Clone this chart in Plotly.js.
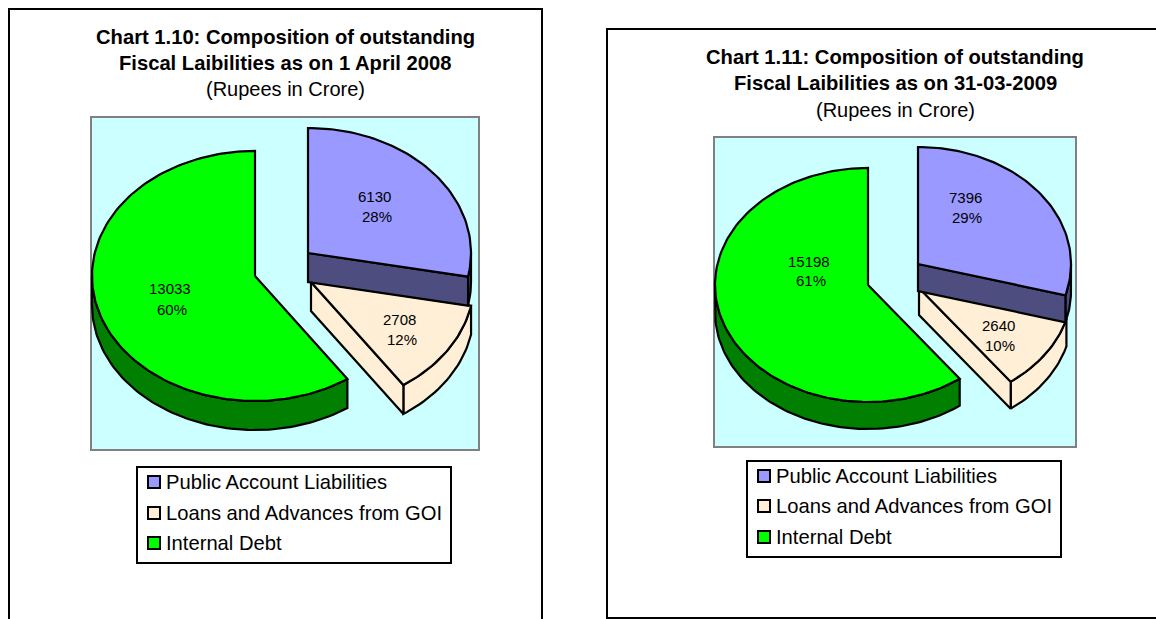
<!DOCTYPE html>
<html><head><meta charset="utf-8">
<script src="https://cdn.plot.ly/plotly-3.0.1.min.js"></script>
<style>html,body{margin:0;padding:0;background:#fff;overflow:hidden}#c{width:1156px;height:619px}</style>
</head><body><div id="c"></div>
<script>
const categories = ['Public Account Liabilities', 'Loans and Advances from GOI', 'Internal Debt'];
const valuesA = [6130, 2708, 13033];
const percentA = [28, 12, 60];
const valuesB = [7396, 2640, 15198];
const percentB = [29, 10, 61];
const topColors = ['#9999FF', '#FFEFD6', '#00FF00'];
const sideColors = ['#4D4D80', '#FFEFD6', '#007F00'];

const FONT = 'Liberation Sans, Arial, sans-serif';
const chartA = {
  values: valuesA, percent: percentA,
  title: ['Chart 1.10: Composition of outstanding', 'Fiscal Laibilities as on 1 April 2008'],
  frame: [9, 9, 542, 640], plot: [91, 117, 479, 450],
  titleX: 285, titleY: [37, 63, 89],
  rx: 163, ry: 125, depth: 29,
  apex: [[308, 253], [311, 282], [255, 276]],
  labels: [[374, 196, 377, 216], [399, 319, 402, 339], [170, 288, 172, 309]],
  legendBox: [137, 467, 451, 563], swatchX: 154, textX: 164, legendY: [482, 513, 543]
};
const chartB = {
  values: valuesB, percent: percentB,
  title: ['Chart 1.11: Composition of outstanding', 'Fiscal Laibilities as on 31-03-2009'],
  frame: [607, 29, 1200, 618], plot: [714, 137, 1076, 447],
  titleX: 895, titleY: [57, 83, 110],
  rx: 153, ry: 117, depth: 27,
  apex: [[918, 264], [919, 288], [868, 285]],
  labels: [[965, 197, 967, 217], [998, 325, 1000, 345], [809, 261, 811, 280]],
  legendBox: [747, 461, 1061, 557], swatchX: 764, textX: 774, legendY: [476, 506, 537]
};

function arc(c, i, a0, a1, dy) {
  const xs = [], ys = [], n = Math.max(2, Math.ceil(Math.abs(a1 - a0) / 1.5));
  for (let k = 0; k <= n; k++) {
    const a = (a0 + (a1 - a0) * k / n) * Math.PI / 180;
    xs.push(c.apex[i][0] + c.rx * Math.sin(a));
    ys.push(c.apex[i][1] - c.ry * Math.cos(a) + dy);
  }
  return [xs, ys];
}
function poly(xs, ys, color, name) {
  return {type: 'scatter', mode: 'lines', x: xs.concat([xs[0]]), y: ys.concat([ys[0]]), fill: 'toself',
    fillcolor: color, line: {color: '#000', width: 2.2}, showlegend: false, name: name, hoverinfo: 'name'};
}
const traces = [], shapes = [], annotations = [];
function rect(b, fill, line, w) {
  shapes.push({type: 'rect', xref: 'x', yref: 'y', x0: b[0], y0: b[1], x1: b[2], y1: b[3],
    fillcolor: fill, line: {color: line, width: w}, layer: 'below'});
}
function note(x, y, text, size, anchor, bold) {
  annotations.push({xref: 'x', yref: 'y', x: x, y: y, text: bold ? '<b>' + text + '</b>' : text, showarrow: false,
    xanchor: anchor, yanchor: 'middle', font: {family: FONT, size: size, color: '#000'}});
}
function drawChart(c) {
  rect(c.frame, 'rgba(255,255,255,0)', '#000', 2);
  rect(c.plot, '#CCFFFF', '#808080', 2);
  note(c.titleX, c.titleY[0], c.title[0], 20.2, 'center', true);
  note(c.titleX, c.titleY[1], c.title[1], 20.2, 'center', true);
  note(c.titleX, c.titleY[2], '(Rupees in Crore)', 20, 'center', false);

  const total = c.values.reduce((s, v) => s + v, 0);
  const starts = [], ends = [];
  let run = 0;
  c.values.forEach(v => { starts.push(run / total * 360); run += v; ends.push(run / total * 360); });

  // Internal Debt: wall on the lower left, then top
  let w = arc(c, 2, starts[2], 270, 0), w2 = arc(c, 2, 270, starts[2], c.depth);
  traces.push(poly(w[0].concat(w2[0]), w[1].concat(w2[1]), sideColors[2], categories[2]));
  let t = arc(c, 2, starts[2], ends[2], 0);
  traces.push(poly([c.apex[2][0]].concat(t[0]), [c.apex[2][1]].concat(t[1]), topColors[2], categories[2]));

  // Loans: wall, cut face, top
  w = arc(c, 1, starts[1], ends[1], 0); w2 = arc(c, 1, ends[1], starts[1], c.depth);
  traces.push(poly(w[0].concat(w2[0]), w[1].concat(w2[1]), sideColors[1], categories[1]));
  let p = arc(c, 1, ends[1], ends[1], 0);
  traces.push(poly([c.apex[1][0], p[0][0], p[0][0], c.apex[1][0]],
    [c.apex[1][1], p[1][0], p[1][0] + c.depth, c.apex[1][1] + c.depth], sideColors[1], categories[1]));
  t = arc(c, 1, starts[1], ends[1], 0);
  traces.push(poly([c.apex[1][0]].concat(t[0]), [c.apex[1][1]].concat(t[1]), topColors[1], categories[1]));

  // Public Account: wall, cut face, top
  w = arc(c, 0, 90, ends[0], 0); w2 = arc(c, 0, ends[0], 90, c.depth);
  traces.push(poly(w[0].concat(w2[0]), w[1].concat(w2[1]), sideColors[0], categories[0]));
  p = arc(c, 0, ends[0], ends[0], 0);
  traces.push(poly([c.apex[0][0], p[0][0], p[0][0], c.apex[0][0]],
    [c.apex[0][1], p[1][0], p[1][0] + c.depth, c.apex[0][1] + c.depth], sideColors[0], categories[0]));
  t = arc(c, 0, starts[0], ends[0], 0);
  traces.push(poly([c.apex[0][0]].concat(t[0]), [c.apex[0][1]].concat(t[1]), topColors[0], categories[0]));

  c.values.forEach((v, i) => {
    const l = c.labels[i];
    note(l[0], l[1], String(v), 15, 'center', false);
    note(l[2], l[3], c.percent[i] + '%', 15, 'center', false);
  });

  // Legend
  rect(c.legendBox, '#FFFFFF', '#000', 2);
  categories.forEach((name, i) => {
    traces.push({type: 'scatter', mode: 'markers', x: [c.swatchX], y: [c.legendY[i]], showlegend: false, name: name,
      hoverinfo: 'name', marker: {symbol: 'square', size: 12, color: topColors[i], line: {color: '#000', width: 2}}});
    note(c.textX, c.legendY[i], name, 20.2, 'left', false);
  });
}
drawChart(chartA);
drawChart(chartB);

const layout = {
  width: 1156, height: 619, margin: {l: 0, r: 0, t: 0, b: 0},
  paper_bgcolor: '#fff', plot_bgcolor: '#fff', showlegend: false,
  xaxis: {range: [0, 1156], visible: false, fixedrange: true},
  yaxis: {range: [619, 0], visible: false, fixedrange: true},
  shapes: shapes, annotations: annotations
};
Plotly.newPlot('c', traces, layout, {displayModeBar: false, responsive: false});
</script></body></html>
